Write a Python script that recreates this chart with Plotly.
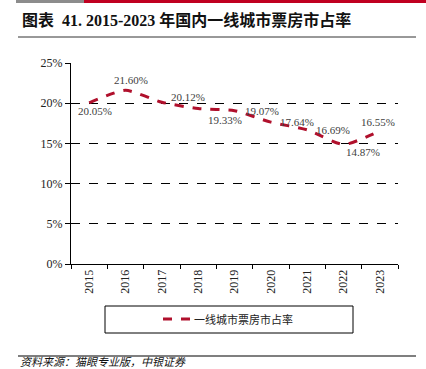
import plotly.graph_objects as go

years = ["2015", "2016", "2017", "2018", "2019", "2020", "2021", "2022", "2023"]
share = [20.05, 21.60, 20.12, 19.33, 19.07, 17.64, 16.69, 14.87, 16.55]
labels = ["20.05%", "21.60%", "20.12%", "19.33%", "19.07%", "17.64%", "16.69%", "14.87%", "16.55%"]
# label offsets in pixels (x right, y up)
label_dx = [6, 5, 26, 27, 27, 26, 26, 19, -2]
label_dy = [-8, 10, 5, -11, 0, 0, 0, -8, 9]
y_ticks = [0, 5, 10, 15, 20, 25]
y_tick_text = ["0%", "5%", "10%", "15%", "20%", "25%"]
series_name = "一线城市票房市占率"

W, H = 426, 369
L, R, T, B = 71, 398, 63, 264

def px(x):
    return (x - L) / (R - L)

def py(y):
    return (B - y) / (B - T)

RED = "#B0102C"
fig = go.Figure()
fig.add_trace(go.Scatter(
    x=years, y=share, mode="lines", name=series_name, showlegend=False,
    line=dict(color=RED, width=3, dash="dash", shape="spline", smoothing=0.6),
    hoverinfo="skip",
))

serif = "Liberation Serif, Noto Sans CJK SC"
shapes = [
    dict(type="rect", xref="paper", yref="paper", x0=px(16), x1=px(84), y0=py(3), y1=py(0),
         fillcolor="#8C8C8C", line=dict(width=0)),
    dict(type="rect", xref="paper", yref="paper", x0=px(84), x1=px(426), y0=py(3), y1=py(0),
         fillcolor="#C00020", line=dict(width=0)),
    dict(type="line", xref="paper", yref="paper", x0=px(18), x1=px(416), y0=py(37), y1=py(37),
         line=dict(color="#333333", width=1)),
    dict(type="rect", xref="paper", yref="paper", x0=px(105), x1=px(353), y0=py(333), y1=py(306),
         line=dict(color="#000000", width=1), fillcolor="rgba(0,0,0,0)"),
    dict(type="line", xref="paper", yref="paper", x0=px(163), x1=px(190), y0=py(319), y1=py(319),
         line=dict(color=RED, width=3, dash="dash")),
    dict(type="line", xref="paper", yref="paper", x0=px(18), x1=px(416), y0=py(356), y1=py(356),
         line=dict(color="#555555", width=1.5)),
]
annotations = [
    dict(xref="paper", yref="paper", x=px(20), y=py(20), xanchor="left", yanchor="middle",
         text="<b>图表  41. 2015-2023 年国内一线城市票房市占率</b>", showarrow=False,
         font=dict(family=serif, size=16, color="#111111")),
    dict(xref="paper", yref="paper", x=px(192), y=py(319), xanchor="left", yanchor="middle",
         text=series_name, showarrow=False,
         font=dict(family=serif, size=11, color="#222222")),
    dict(xref="paper", yref="paper", x=px(18), y=py(362), xanchor="left", yanchor="middle",
         text="<i>资料来源：猫眼专业版，中银证券</i>", showarrow=False,
         font=dict(family=serif, size=11, color="#111111")),
]
for i, (v, t, dx, dy) in enumerate(zip(share, labels, label_dx, label_dy)):
    annotations.append(dict(xref="x", yref="y", x=i, y=v, text=t, showarrow=False,
                            xshift=dx, yshift=dy, xanchor="center", yanchor="middle",
                            font=dict(family="Liberation Serif", size=11, color="#404040")))

fig.update_layout(
    width=W, height=H,
    margin=dict(l=L, r=W - R, t=T, b=H - B, autoexpand=False),
    paper_bgcolor="white", plot_bgcolor="white",
    showlegend=False, hovermode=False,
    shapes=shapes, annotations=annotations,
    xaxis=dict(type="category", range=[-0.5, 8.5], tickson="boundaries",
               ticks="outside", ticklen=4, tickcolor="#000", showline=True,
               linecolor="#000", linewidth=1, showgrid=False, tickangle=-90,
               tickfont=dict(family="Liberation Serif", size=12, color="#222")),
    yaxis=dict(range=[0, 25], tickvals=y_ticks, ticktext=y_tick_text,
               ticks="outside", ticklen=5, tickcolor="#000", showline=True,
               linecolor="#000", linewidth=1, showgrid=True, gridcolor="#000",
               griddash="dash", gridwidth=1, zeroline=False,
               tickfont=dict(family="Liberation Serif", size=12, color="#222")),
)

fig.write_html("out.html", config={"displayModeBar": False},
               post_script="document.body.style.margin='0';document.body.style.overflow='hidden';")
